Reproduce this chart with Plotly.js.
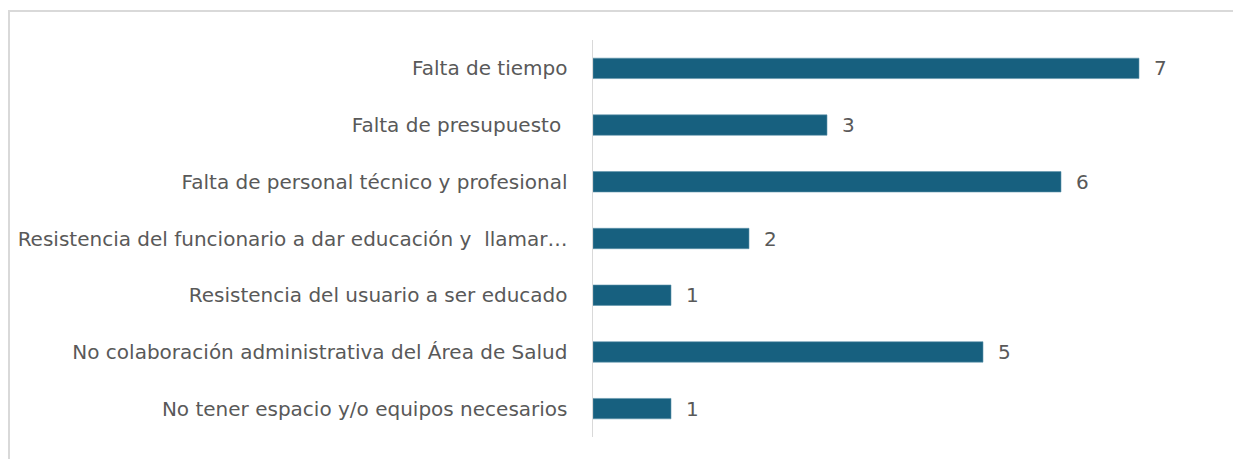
<!DOCTYPE html>
<html>
<head>
<meta charset="utf-8">
<script src="https://cdn.plot.ly/plotly-3.0.1.min.js"></script>
<style>
  html, body { margin: 0; padding: 0; background: #ffffff; }
  #wrap { position: relative; width: 1233px; height: 459px; overflow: hidden; }
  #frame { position: absolute; left: 8px; top: 10px; width: 1240px; height: 460px;
           border-left: 2px solid #d9d9d9; border-top: 2px solid #d9d9d9; box-sizing: border-box; }
  #chart { position: absolute; left: 0; top: 0; width: 1233px; height: 459px; }
</style>
</head>
<body>
<div id="wrap">
  <div id="frame"></div>
  <div id="chart"></div>
</div>
<script>
// Categories (top to bottom as shown)
const categories = [
  "Falta de tiempo",
  "Falta de presupuesto ",
  "Falta de personal técnico y profesional",
  "Resistencia del funcionario a dar educación y  llamar…",
  "Resistencia del usuario a ser educado",
  "No colaboración administrativa del Área de Salud",
  "No tener espacio y/o equipos necesarios"
];
const values = [7, 3, 6, 2, 1, 5, 1];

const barColor = "#17607f";
const textColor = "#595959";
const fontFamily = "'DejaVu Sans', 'Open Sans', sans-serif";
const fontSize = 20;

const trace = {
  type: "bar",
  orientation: "h",
  x: values,
  y: categories,
  marker: { color: barColor, line: { color: "#5f93ab", width: 0.6 } },
  hoverinfo: "skip"
};

const annotations = values.map((v, i) => ({
  x: v, y: categories[i], xref: "x", yref: "y",
  text: String(v), showarrow: false, xanchor: "left", xshift: 13,
  font: { family: fontFamily, size: fontSize, color: textColor }
}));

const layout = {
  width: 1233, height: 459,
  margin: { l: 593, r: 16, t: 40, b: 22 },
  paper_bgcolor: "rgba(0,0,0,0)",
  plot_bgcolor: "rgba(0,0,0,0)",
  showlegend: false,
  bargap: 0.64,
  font: { family: fontFamily, size: fontSize, color: textColor },
  xaxis: {
    range: [0, 8], showgrid: false, zeroline: false, showticklabels: false,
    showline: false, ticks: ""
  },
  yaxis: {
    autorange: "reversed", showgrid: false, zeroline: false,
    showline: true, linecolor: "#d9d9d9", linewidth: 1.5,
    ticks: "", ticklabelstandoff: 20,
    tickfont: { family: fontFamily, size: fontSize, color: textColor }
  },
  annotations: annotations
};

Plotly.newPlot("chart", [trace], layout, { displayModeBar: false, staticPlot: true });
</script>
</body>
</html>
